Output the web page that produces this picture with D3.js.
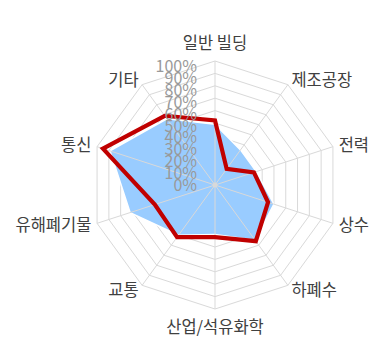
<!DOCTYPE html>
<html>
<head>
<meta charset="utf-8">
<script src="https://cdn.jsdelivr.net/npm/d3@7"></script>
<style>
  body { margin: 0; background: #fff; }
  text { font-family: "Noto Sans CJK KR", "Noto Sans", sans-serif; }
</style>
</head>
<body>
<div id="radar"></div>
<script>
// 1: DATA
const categories = ["일반 빌딩", "제조공장", "전력", "상수", "하폐수", "산업/석유화학", "교통", "유해폐기물", "통신", "기타"];
const blueValues = [0.49, 0.35, 0.35, 0.50, 0.55, 0.40, 0.50, 0.72, 0.89, 0.66];
const redValues  = [0.52, 0.16, 0.33, 0.45, 0.56, 0.42, 0.52, 0.51, 0.95, 0.69];
const tickValues = [0, 0.1, 0.2, 0.3, 0.4, 0.5, 0.6, 0.7, 0.8, 0.9, 1];

// 2: SIZES
const width = 375, height = 353;
const cx = 215, cy = 185, R = 124;

const svg = d3.select("#radar")
    .append("svg")
    .attr("width", width)
    .attr("height", height);

const g = svg.append("g")
    .attr("transform", `translate(${cx},${cy})`);

// 3: SCALES
const rScale = d3.scaleLinear().domain([0, 1]).range([0, R]);
const angle = d3.scalePoint()
    .domain(d3.range(categories.length + 1))
    .range([0, 2 * Math.PI]);
// tick labels sit a bit tighter than the rings
const tickY = d3.scaleLinear().domain([0, 1]).range([6, -R + 11]);

const radial = d3.lineRadial()
    .angle((d, i) => angle(i))
    .radius(d => rScale(d))
    .curve(d3.curveLinearClosed);

// 4: GRID RINGS
g.selectAll(".ring")
    .data(tickValues.slice(1))
    .enter()
    .append("path")
    .attr("class", "ring")
    .attr("d", v => radial(categories.map(() => v)))
    .attr("fill", "none")
    .attr("stroke", "#d9d9d9")
    .attr("stroke-width", 1);

// 5: BLUE AREA
g.append("path")
    .attr("d", radial(blueValues))
    .attr("fill", "#99ccff")
    .attr("stroke", "#fff")
    .attr("stroke-width", 1.5);

// spokes
g.selectAll(".spoke")
    .data(categories)
    .enter()
    .append("line")
    .attr("class", "spoke")
    .attr("x1", 0)
    .attr("y1", 0)
    .attr("x2", (d, i) => rScale(1) * Math.sin(angle(i)))
    .attr("y2", (d, i) => -rScale(1) * Math.cos(angle(i)))
    .attr("stroke", "#d9d9d9")
    .attr("stroke-width", 1);

g.append("circle")
    .attr("r", 2.5)
    .attr("fill", "#d9d9d9");

// 6: RED LINE
g.append("path")
    .attr("d", radial(redValues))
    .attr("fill", "none")
    .attr("stroke", "#c00000")
    .attr("stroke-width", 4.2)
    .attr("stroke-linejoin", "miter");

// 7: TICK LABELS
g.selectAll(".tick-label")
    .data(tickValues)
    .enter()
    .append("text")
    .attr("class", "tick-label")
    .attr("x", -18)
    .attr("y", v => tickY(v))
    .attr("text-anchor", "end")
    .style("font-size", "16px")
    .style("fill", "#999")
    .text(d3.format(".0%"));

// 8: CATEGORY LABELS
g.selectAll(".cat-label")
    .data(categories)
    .enter()
    .append("text")
    .attr("class", "cat-label")
    .each(function (d, i) {
        const a = angle(i);
        const s = Math.sin(a);
        const anchor = s > 0.1 ? "start" : s < -0.1 ? "end" : "middle";
        const lr = R + 6 + (anchor === "middle" ? 12 : 0);
        d3.select(this)
            .attr("x", lr * s)
            .attr("y", -lr * Math.cos(a))
            .attr("dy", "0.35em")
            .attr("text-anchor", anchor);
    })
    .style("font-size", "16.5px")
    .style("fill", "#404040")
    .text(d => d);
</script>
</body>
</html>
